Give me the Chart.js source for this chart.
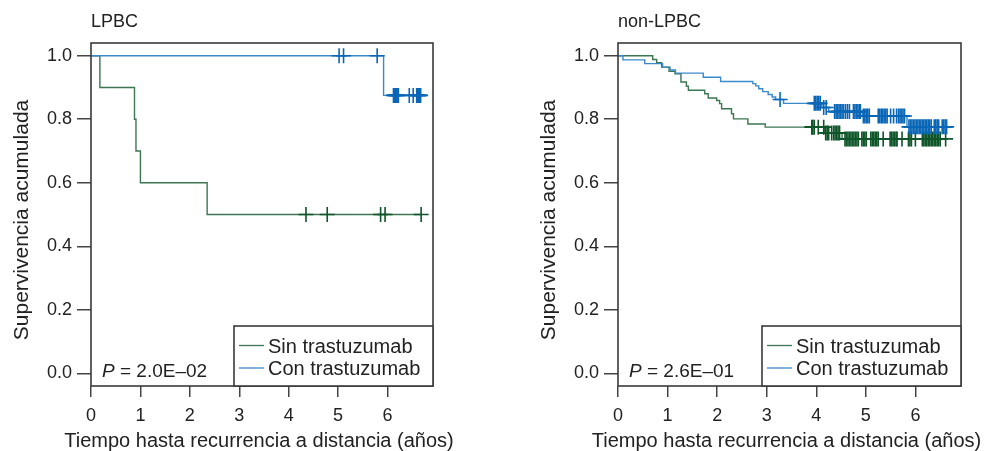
<!DOCTYPE html>
<html><head><meta charset="utf-8">
<script src="https://cdn.jsdelivr.net/npm/chart.js@4.4.1/dist/chart.umd.min.js"></script>
<style>
html,body{margin:0;padding:0;background:#fff;}
#wrap{position:relative;width:987px;height:451px;overflow:hidden;background:#fff;}
canvas{position:absolute;top:0;}
</style></head><body>
<div id="wrap">
<canvas id="c1" width="494" height="451" style="left:0px"></canvas>
<canvas id="c2" width="493" height="451" style="left:494px"></canvas>
</div>
<script>
// ---------- data ----------
const xTicks = [0, 1, 2, 3, 4, 5, 6];
const yTicks = [0.0, 0.2, 0.4, 0.6, 0.8, 1.0];
const seriesLabels = ['Sin trastuzumab', 'Con trastuzumab'];
const panelTitles = ['LPBC', 'non-LPBC'];
const pValues = ['2.0E\u201302', '2.6E\u201301'];
const xTitle = 'Tiempo hasta recurrencia a distancia (a\u00f1os)';
const yTitle = 'Supervivencia acumulada';

// LPBC panel
const lpbcSinTime = [0, 0.18, 0.88, 0.91, 1.00, 2.35, 6.68];
const lpbcSinSurv = [1.0, 0.9, 0.8, 0.7, 0.6, 0.5, 0.5];
const lpbcSinCensor = [4.35, 4.78, 5.86, 5.95, 6.68];
const lpbcConTime = [0, 5.92, 6.67];
const lpbcConSurv = [1.0, 0.875, 0.875];
const lpbcConCensor = [5.02, 5.11, 5.79, 6.12, 6.14, 6.16, 6.18, 6.20, 6.22, 6.44, 6.52, 6.59, 6.61, 6.63, 6.65, 6.67];

// non-LPBC panel
const nonSinTime = [0, 0.70, 0.78, 0.88, 1.03, 1.15, 1.27, 1.38, 1.42, 1.75, 1.82, 1.99, 2.05, 2.09, 2.29, 2.33, 2.62, 2.97, 4.17, 4.52, 6.61];
const nonSinSurv = [1.0, 0.988, 0.978, 0.964, 0.951, 0.943, 0.917, 0.904, 0.891, 0.880, 0.867, 0.859, 0.849, 0.833, 0.817, 0.801, 0.785, 0.775, 0.757, 0.738, 0.738];
const nonSinCensor = [3.91, 3.93, 3.96, 4.04, 4.15,
  4.19, 4.22, 4.25, 4.31,
  4.35, 4.38, 4.41, 4.44, 4.47,
  4.58, 4.61, 4.64, 4.67, 4.70, 4.73, 4.76, 4.79, 4.82, 4.85,
  4.92, 4.95, 4.98, 5.01,
  5.10, 5.13, 5.16, 5.19, 5.22, 5.25,
  5.35,
  5.49, 5.52, 5.55, 5.58, 5.61, 5.63,
  5.73,
  5.86, 5.89, 5.92,
  6.00,
  6.14, 6.17, 6.20, 6.23, 6.26, 6.29, 6.32, 6.35, 6.38, 6.41, 6.44, 6.47, 6.50,
  6.61];
const nonConTime = [0, 0.10, 0.54, 0.90, 1.05, 1.16, 1.72, 2.07, 2.72, 2.78, 2.84, 2.92, 3.03, 3.11, 3.18, 3.34, 4.11, 4.25, 4.93, 5.83, 6.63];
const nonConSurv = [1.0, 0.987, 0.975, 0.964, 0.955, 0.945, 0.932, 0.919, 0.912, 0.905, 0.896, 0.887, 0.878, 0.870, 0.862, 0.850, 0.837, 0.824, 0.810, 0.776, 0.776];
const nonConCensor = [3.27,
  3.96, 3.99, 4.02, 4.05, 4.08,
  4.15, 4.20,
  4.37, 4.40, 4.43, 4.46, 4.49, 4.52, 4.55,
  4.59, 4.63, 4.67,
  4.75, 4.78, 4.81, 4.84, 4.87, 4.89,
  4.95, 4.98, 5.01, 5.04, 5.07,
  5.25, 5.28, 5.31, 5.34, 5.37, 5.40, 5.43,
  5.50, 5.56, 5.62,
  5.66, 5.69, 5.72, 5.75, 5.78,
  5.87, 5.90, 5.93, 5.96, 5.99, 6.02, 6.05, 6.08, 6.11, 6.14, 6.17, 6.20, 6.23, 6.26, 6.29, 6.32,
  6.38, 6.41, 6.44, 6.47,
  6.54, 6.57, 6.60, 6.63];

// ---------- style ----------
const FONT = '"Liberation Sans", Arial, Helvetica, sans-serif';
const TEXT = '#222222';
const GREEN = '#3d7652', GREEN_MARK = '#0f5529';
const BLUE = '#3b8acd', BLUE_MARK = '#0a66b6';

function survAt(times, surv, t) {
  let s = surv[0];
  for (let i = 0; i < times.length; i++) { if (times[i] <= t) s = surv[i]; }
  return s;
}
function curve(times, surv) { return times.map((t, i) => ({x: t, y: surv[i]})); }
function marks(times, surv, cens) { return cens.map(t => ({x: t, y: survAt(times, surv, t)})); }

const decor = {
  id: 'decor',
  afterDraw(chart, args, o) {
    const ctx = chart.ctx, a = chart.chartArea;
    ctx.save();
    ctx.strokeStyle = '#3a3a3a';
    ctx.lineWidth = 1.6;
    ctx.strokeRect(a.left, a.top, a.right - a.left, a.bottom - a.top);
    ctx.fillStyle = TEXT;
    ctx.textBaseline = 'alphabetic';
    // panel title
    ctx.font = '18px ' + FONT;
    ctx.textAlign = 'left';
    ctx.fillText(o.title, a.left, 27);
    // x title
    ctx.font = '20px ' + FONT;
    ctx.textAlign = 'center';
    ctx.fillText(xTitle, (a.left + a.right) / 2 - 3, 446.5);
    // y title
    ctx.save();
    ctx.font = '21px ' + FONT;
    ctx.translate(a.left - 63, a.top + 177);
    ctx.rotate(-Math.PI / 2);
    ctx.fillText(yTitle, 0, 0);
    ctx.restore();
    // P value
    ctx.textAlign = 'left';
    const px = a.left + 11, py = a.bottom - 9.5;
    ctx.font = 'italic 19px ' + FONT;
    ctx.fillText('P', px, py);
    const pw = ctx.measureText('P').width;
    ctx.font = '19px ' + FONT;
    ctx.fillText(' = ' + o.p, px + pw, py);
    // legend
    const bw = 199, bh = 60;
    const bx = a.right - bw, by = a.bottom - bh;
    ctx.fillStyle = '#fff';
    ctx.fillRect(bx, by, bw, bh);
    ctx.strokeStyle = '#3a3a3a';
    ctx.lineWidth = 1.6;
    ctx.strokeRect(bx, by, bw, bh);
    const items = chart.data.datasets.filter(d => d.inLegend);
    items.sort((p, q) => p.legendIndex - q.legendIndex);
    ctx.font = '20px ' + FONT;
    items.forEach((d, i) => {
      const ly = by + 19.5 + i * 22.5;
      ctx.strokeStyle = d.borderColor;
      ctx.lineWidth = 1.3;
      ctx.beginPath();
      ctx.moveTo(bx + 5, ly);
      ctx.lineTo(bx + 30, ly);
      ctx.stroke();
      ctx.fillStyle = TEXT;
      ctx.fillText(d.label, bx + 34, ly + 7);
    });
    ctx.restore();
  }
};

function makeChart(id, cfg) {
  const ds = [
    {label: seriesLabels[1], inLegend: true, legendIndex: 1, data: curve(cfg.conT, cfg.conS),
     borderColor: BLUE, borderWidth: 1.4, pointRadius: 0, stepped: 'before', order: 2},
    {label: seriesLabels[0], inLegend: true, legendIndex: 0, data: curve(cfg.sinT, cfg.sinS),
     borderColor: GREEN, borderWidth: 1.4, pointRadius: 0, stepped: 'before', order: 3},
    {label: 'c1', data: marks(cfg.conT, cfg.conS, cfg.conC), showLine: false,
     pointStyle: 'cross', pointRadius: 7.5, pointBorderWidth: 1.6, pointBorderColor: BLUE_MARK, borderColor: BLUE_MARK, order: 0},
    {label: 'c0', data: marks(cfg.sinT, cfg.sinS, cfg.sinC), showLine: false,
     pointStyle: 'cross', pointRadius: 7.5, pointBorderWidth: 1.6, pointBorderColor: GREEN_MARK, borderColor: GREEN_MARK, order: 1}
  ];
  return new Chart(document.getElementById(id), {
    type: 'line',
    data: {datasets: ds},
    plugins: [decor],
    options: {
      responsive: false,
      animation: false,
      events: [],
      layout: {padding: {left: 0, top: 43, right: cfg.padRight, bottom: 0}},
      plugins: {legend: {display: false}, tooltip: {enabled: false},
        decor: {title: cfg.title, p: cfg.p}},
      scales: {
        x: {
          type: 'linear', min: 0, max: 6.92,
          afterFit: s => { s.height = 65; },
          afterBuildTicks: s => { s.ticks = xTicks.map(v => ({value: v})); },
          grid: {drawOnChartArea: false, drawTicks: true, tickLength: 11, color: '#444', lineWidth: 1.5},
          border: {display: false},
          ticks: {autoSkip: false, maxRotation: 0, padding: 8, color: TEXT,
            font: {family: FONT, size: 18}, callback: v => String(v)}
        },
        y: {
          type: 'linear', min: -0.04, max: 1.04,
          afterFit: s => { s.width = cfg.yWidth; },
          afterBuildTicks: s => { s.ticks = yTicks.map(v => ({value: v})); },
          grid: {drawOnChartArea: false, drawTicks: true, tickLength: 14, color: '#444', lineWidth: 1.5},
          border: {display: false},
          ticks: {padding: 5, color: TEXT, font: {family: FONT, size: 18},
            callback: v => Number(v).toFixed(1)}
        }
      }
    }
  });
}

makeChart('c1', {title: panelTitles[0], p: pValues[0], padRight: 61, yWidth: 91,
  sinT: lpbcSinTime, sinS: lpbcSinSurv, sinC: lpbcSinCensor,
  conT: lpbcConTime, conS: lpbcConSurv, conC: lpbcConCensor});
makeChart('c2', {title: panelTitles[1], p: pValues[1], padRight: 26, yWidth: 124,
  sinT: nonSinTime, sinS: nonSinSurv, sinC: nonSinCensor,
  conT: nonConTime, conS: nonConSurv, conC: nonConCensor});
</script>
</body></html>
